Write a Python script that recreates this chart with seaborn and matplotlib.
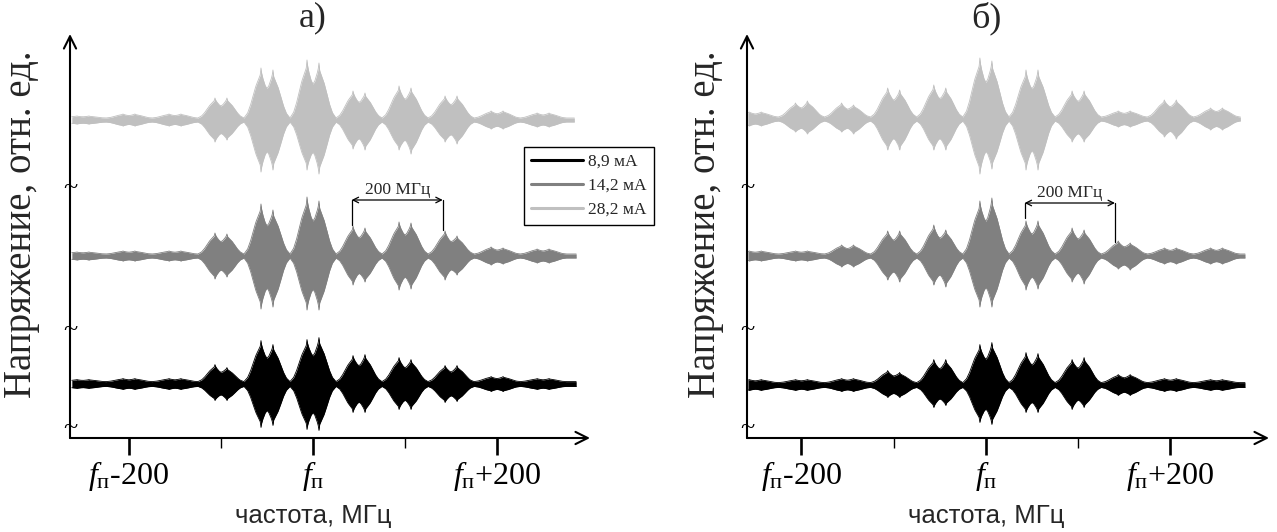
import numpy as np
import pandas as pd
import matplotlib
matplotlib.use("Agg")
import matplotlib.pyplot as plt
from matplotlib.lines import Line2D
import seaborn as sns

# ---------------------------------------------------------------------------
# Data: spectral bursts around the pump frequency f_п (offsets in MHz).
# Every burst is a doublet; each pair gives the heights (rel. units) of its
# left and right peak, above (up) and below (dn) the trace baseline.
# ---------------------------------------------------------------------------
burst_offsets = [-250, -200, -150, -100, -50, 0, 50, 100, 150, 200, 250]
currents = ["8,9 мА", "14,2 мА", "28,2 мА"]

# panel а)
a_89_up = [(2, 2), (3, 3), (3, 3), (17, 14), (41, 37), (42, 44), (26, 27), (24, 22), (16, 16), (5, 5), (3, 3)]
a_89_dn = [(2, 2), (3, 3), (3, 3), (14, 14), (41, 39), (43, 44), (26, 26), (23, 23), (16, 15), (5, 5), (3, 3)]
a_142_up = [(2, 2), (3, 3), (3, 3), (21, 20), (50, 44), (57, 53), (28, 26), (32, 31), (23, 18), (7, 6), (5, 5)]
a_142_dn = [(2, 2), (3, 3), (3, 3), (21, 19), (51, 49), (52, 52), (27, 24), (32, 31), (22, 17), (7, 6), (5, 5)]
a_282_up = [(2, 2), (4, 4), (4, 4), (20, 20), (50, 48), (58, 55), (27, 25), (32, 30), (22, 22), (7, 7), (5, 5)]
a_282_dn = [(2, 2), (4, 4), (4, 4), (20, 18), (50, 48), (48, 52), (27, 28), (28, 32), (20, 22), (7, 7), (5, 5)]

# panel б)
b_89_up = [(3, 3), (3, 3), (4, 4), (12, 10), (23, 23), (38, 40), (30, 29), (23, 25), (8, 8), (4, 4), (3, 3)]
b_89_dn = [(3, 3), (3, 3), (4, 4), (10, 10), (20, 18), (35, 37), (25, 25), (22, 20), (8, 8), (4, 4), (3, 3)]
b_142_up = [(3, 3), (3, 3), (9, 9), (23, 23), (29, 24), (53, 56), (33, 33), (26, 24), (13, 11), (6, 6), (6, 6)]
b_142_dn = [(3, 3), (3, 3), (9, 9), (22, 24), (27, 29), (49, 49), (32, 31), (24, 26), (11, 12), (6, 6), (6, 6)]
b_282_up = [(5, 5), (14, 16), (14, 12), (29, 27), (32, 29), (59, 56), (47, 47), (26, 26), (6, 6), (17, 17), (9, 9)]
b_282_dn = [(5, 5), (11, 13), (11, 13), (29, 29), (29, 29), (53, 48), (49, 49), (21, 21), (6, 6), (16, 18), (9, 9)]

# recorded frequency span of every trace, MHz
a_span = {"8,9 мА": (-262, 286), "14,2 мА": (-262, 286), "28,2 мА": (-262, 284)}
b_span = {"8,9 мА": (-258, 281), "14,2 мА": (-258, 281), "28,2 мА": (-258, 276)}

tick_values = [-200, 0, 200]
tick_labels = [r"$\mathit{f}_{\mathrm{п}}$-200", r"$\mathit{f}_{\mathrm{п}}$", r"$\mathit{f}_{\mathrm{п}}$+200"]
minor_ticks = [-100, 100]

# ---------------------------------------------------------------------------
# Styling / layout
# ---------------------------------------------------------------------------
sns.set_theme(style="white")
plt.rcParams["font.family"] = ["Liberation Serif", "DejaVu Serif"]
plt.rcParams["mathtext.fontset"] = "custom"
plt.rcParams["mathtext.rm"] = "Liberation Serif"
plt.rcParams["mathtext.it"] = "Liberation Serif:italic"

palette = {"8,9 мА": "#000000", "14,2 мА": "#808080", "28,2 мА": "#c0c0c0"}
a_base = {"8,9 мА": 54, "14,2 мА": 182, "28,2 мА": 318}
b_base = {"8,9 мА": 53, "14,2 мА": 182, "28,2 мА": 319}
noise_floor = {"8,9 мА": 2.4, "14,2 мА": 2.0, "28,2 мА": 2.0}

# doublet outline: distance from burst centre (MHz) -> fraction of peak height
prof_dist = [0, 2, 4.5, 5.8, 6.5, 7.3, 9, 12, 15, 18, 21, 25]
prof_frac = [0.6, 0.66, 0.8, 0.9, 1.0, 0.86, 0.78, 0.64, 0.45, 0.25, 0.1, 0.0]


def envelope(freq, peaks):
    env = np.zeros_like(freq)
    for c, (left, right) in zip(burst_offsets, peaks):
        d = freq - c
        frac = np.interp(np.abs(d), prof_dist, prof_frac)
        amp = np.interp(d, [-6.5, 6.5], [left, right])
        env = np.maximum(env, frac * amp)
    return env


W, H = 1277, 532
fig = plt.figure(figsize=(W / 100, H / 100), dpi=100)


def px_axes(x0, x1, y_top, y_bot):
    return fig.add_axes([x0 / W, 1 - y_bot / H, (x1 - x0) / W, (y_bot - y_top) / H])


panels = [
    dict(ax=px_axes(70, 590, 34, 438), xlim=(-264, 301), base=a_base, span=a_span,
         up={"8,9 мА": a_89_up, "14,2 мА": a_142_up, "28,2 мА": a_282_up},
         dn={"8,9 мА": a_89_dn, "14,2 мА": a_142_dn, "28,2 мА": a_282_dn},
         title="а)", xc=313, ylab_x=22, marker=dict(x0=42, x1=141, y=238, yl=213, yr=208)),
    dict(ax=px_axes(747, 1269, 34, 438), xlim=(-259, 307), base=b_base, span=b_span,
         up={"8,9 мА": b_89_up, "14,2 мА": b_142_up, "28,2 мА": b_282_up},
         dn={"8,9 мА": b_89_dn, "14,2 мА": b_142_dn, "28,2 мА": b_282_dn},
         title="б)", xc=986, ylab_x=705, marker=dict(x0=42, x1=140, y=235, yl=220, yr=196)),
]

for p in panels:
    ax = p["ax"]
    rows = []
    for cur in currents[::-1]:
        lo, hi = p["span"][cur]
        f = np.arange(lo, hi + 0.001, 0.25)
        up = p["base"][cur] + noise_floor[cur] + envelope(f, p["up"][cur])
        dn = p["base"][cur] - noise_floor[cur] - envelope(f, p["dn"][cur])
        ax.fill_between(f, dn, up, color=palette[cur], lw=0, zorder=2)
        rows.append(pd.DataFrame({"freq": f, "level": up, "current": cur, "edge": cur + "u"}))
        rows.append(pd.DataFrame({"freq": f, "level": dn, "current": cur, "edge": cur + "d"}))
    df = pd.concat(rows, ignore_index=True)
    sns.lineplot(data=df, x="freq", y="level", hue="current", units="edge", estimator=None,
                 palette=palette, lw=0.6, legend=False, ax=ax, zorder=3)

    ax.set_xlim(*p["xlim"])
    ax.set_ylim(0, 404)
    for s in ax.spines.values():
        s.set_visible(False)
    ax.set_xlabel("")
    ax.set_ylabel("")
    ax.set_yticks([])
    ax.set_xticks(tick_values)
    ax.set_xticklabels(tick_labels, fontsize=23)
    ax.set_xticks(minor_ticks, minor=True)
    ax.tick_params(axis="x", which="major", direction="out", length=12, width=1.9,
                   pad=3, bottom=True, colors="black")
    ax.tick_params(axis="x", which="minor", direction="out", length=7, width=1.0,
                   bottom=True, colors="black")
    ax.patch.set_alpha(0)

    # axes drawn as arrows
    ax.annotate("", xy=(0, 1), xytext=(0, 0), xycoords="axes fraction",
                arrowprops=dict(arrowstyle="->", lw=1.5, color="black",
                                mutation_scale=22, shrinkA=0, shrinkB=0))
    ax.annotate("", xy=(1, 0), xytext=(0, 0), xycoords="axes fraction",
                arrowprops=dict(arrowstyle="->", lw=1.5, color="black",
                                mutation_scale=22, shrinkA=0, shrinkB=0))
    # axis break marks
    for yb in (250, 108, 10):
        ax.text(p["xlim"][0], yb, "~", ha="center", va="center", fontsize=19,
                color="black", zorder=5)

    # 200 MHz spacing marker
    m = p["marker"]
    ax.annotate("", xy=(m["x1"], m["y"]), xytext=(m["x0"], m["y"]),
                arrowprops=dict(arrowstyle="<->", lw=0.9, color="black",
                                mutation_scale=10, shrinkA=0, shrinkB=0), zorder=6)
    ax.plot([m["x0"], m["x0"]], [m["y"], m["yl"]], color="black", lw=0.9, zorder=6)
    ax.plot([m["x1"], m["x1"]], [m["y"], m["yr"]], color="black", lw=0.9, zorder=6)
    ax.text((m["x0"] + m["x1"]) / 2, m["y"] + 10, "200 МГц", ha="center", va="center",
            fontsize=12.5)

    fig.text(p["xc"] / W, 1 - 18 / H, p["title"], ha="center", va="center", fontsize=26)
    fig.text(p["xc"] / W, 1 - 516 / H, "частота, МГц", ha="center", va="center",
             fontsize=18.5, family=["Liberation Sans", "DejaVu Sans"])
    fig.text(p["ylab_x"] / W, 1 - 224 / H, "Напряжение, отн. ед.", rotation=90,
             ha="center", va="center", fontsize=28)

# legend for panel а)
ax_a = panels[0]["ax"]
handles = [Line2D([0], [0], color=palette[c], lw=2.2) for c in currents]
leg = ax_a.legend(handles, currents, loc="upper left", bbox_to_anchor=((524 - 70) / 520, (438 - 147) / 404),
                  borderaxespad=0, frameon=True, fancybox=False, framealpha=1, fontsize=12.5,
                  handlelength=3.0, handletextpad=0.3, borderpad=0.4, labelspacing=0.45)
leg.get_frame().set_edgecolor("black")
leg.get_frame().set_linewidth(1.0)

fig.savefig("out.png", dpi=100)
